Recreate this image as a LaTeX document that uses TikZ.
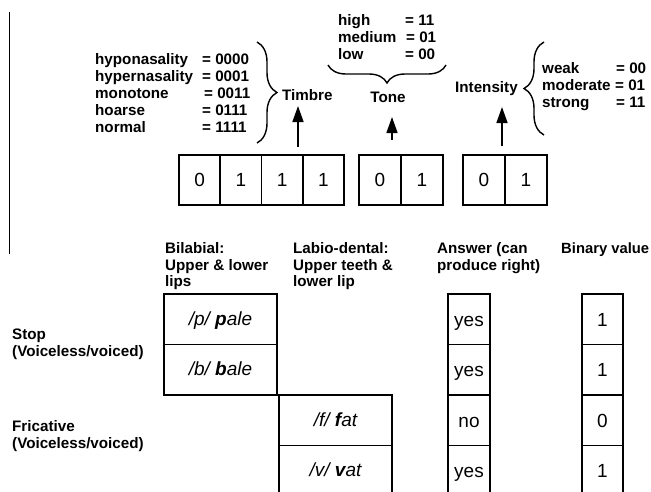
\documentclass[tikz,border=0pt]{standalone}
\usepackage{fontspec}
\setmainfont{Liberation Sans}
\usetikzlibrary{arrows.meta,decorations.pathreplacing}
\begin{document}
\begin{tikzpicture}[x=1pt,y=-1pt,
  lbl/.style={font=\fontsize{15.2}{17}\selectfont\bfseries, inner sep=0pt, anchor=base west},
  cell/.style={draw, line width=1.5pt, minimum width=41.25pt, minimum height=50pt,
               inner sep=0pt, text height=13.6pt, text depth=0pt,
               font=\fontsize{19}{21}\selectfont},
  brc/.style={decorate, decoration={brace, amplitude=#1}, line width=1.4pt},
  up/.style={-{Triangle[width=11pt,length=16pt]}, line width=1.6pt}
]
\useasboundingbox (0,0) rectangle (651,491);

% margin rule on the left
\coordinate (m1) at (9.5,12);
\coordinate (m2) at (9.5,254);
\draw[line width=1.4pt] (m1) -- (m2);

% ---- timbre codes ----
\node[lbl] (t1) at (95,64) {hyponasality};
\node[lbl] (t2) at (95,81) {hypernasality};
\node[lbl] (t3) at (95,98) {monotone};
\node[lbl] (t4) at (95,115) {hoarse};
\node[lbl] (t5) at (95,132) {normal};
\node[lbl] (tv1) at (202,64) {= 0000};
\node[lbl] (tv2) at (202,81) {= 0001};
\node[lbl] (tv3) at (204,98) {= 0011};
\node[lbl] (tv4) at (202,115) {= 0111};
\node[lbl] (tv5) at (202,132) {= 1111};
\draw[brc=20pt] (257,42) -- (257,143);
\node[lbl] (timbre) at (282,100) {Timbre};

% ---- tone codes ----
\node[lbl] (o1) at (338,25) {high};
\node[lbl] (o2) at (338,42) {medium};
\node[lbl] (o3) at (338,59) {low};
\node[lbl] (ov1) at (405,25) {= 11};
\node[lbl] (ov2) at (406,42) {= 01};
\node[lbl] (ov3) at (405,59) {= 00};
\draw[brc=18pt] (446,65) -- (328,65);
\node[lbl, anchor=base] (tone) at (388,102) {Tone};

% ---- intensity codes ----
\node[lbl] (intensity) at (455,92) {Intensity};
\draw[brc=20pt] (544,135) -- (544,42);
\node[lbl] (i1) at (542,73) {weak};
\node[lbl] (i2) at (542,90) {moderate};
\node[lbl] (i3) at (542,107) {strong};
\node[lbl] (iv1) at (616,73) {= 00};
\node[lbl] (iv2) at (615,90) {= 01};
\node[lbl] (iv3) at (616,107) {= 11};

% ---- bit boxes ----
\node[cell] (b1) at (199.6,180) {0};
\node[cell] (b2) at (240.9,180) {1};
\node[cell] (b3) at (282.1,180) {1};
\node[cell] (b4) at (323.4,180) {1};
\node[cell, minimum width=42pt] (b5) at (380,180) {0};
\node[cell, minimum width=42pt] (b6) at (422,180) {1};
\node[cell, minimum width=42pt] (b7) at (484,180) {0};
\node[cell, minimum width=42pt] (b8) at (526,180) {1};

% arrows from the bit groups to their labels
\coordinate (a1s) at (298,147); \coordinate (a1e) at (298,106);
\coordinate (a2s) at (392,140); \coordinate (a2e) at (392,117);
\coordinate (a3s) at (502,146); \coordinate (a3e) at (502,107);
\draw[up] (a1s) -- (a1e);
\draw[up] (a2s) -- (a2e);
\draw[up] (a3s) -- (a3e);

% ---- articulation table ----
\node[lbl] (h1a) at (165,253.5) {Bilabial:};
\node[lbl] (h1b) at (165,270) {Upper \& lower};
\node[lbl] (h1c) at (165,286) {lips};
\node[lbl] (h2a) at (293,253.5) {Labio-dental:};
\node[lbl] (h2b) at (293,270) {Upper teeth \&};
\node[lbl] (h2c) at (293,286) {lower lip};
\node[lbl] (h3a) at (437,253.5) {Answer (can};
\node[lbl] (h3b) at (437,270) {produce right)};
\node[lbl, font=\fontsize{14.8}{17}\selectfont\bfseries] (h4a) at (561,253.5) {Binary value};

\node[lbl] (s1) at (12,339) {Stop};
\node[lbl] (s2) at (12,356) {(Voiceless/voiced)};
\node[lbl] (f1) at (12,431.5) {Fricative};
\node[lbl] (f2) at (12,448) {(Voiceless/voiced)};

\tikzset{wide/.style={cell, minimum width=113pt, minimum height=50.5pt, text height=12pt,
                      font=\fontsize{19}{21}\selectfont\itshape},
         row/.style={cell, minimum height=50.5pt}}
\node[wide] (p) at (220.5,319.25) {/p/ \textbf{p}ale};
\node[wide] (b) at (220.5,369.75) {/b/ \textbf{b}ale};
\node[wide] (f) at (335.5,420.25) {/f/ \textbf{f}at};
\node[wide] (v) at (335.5,470.75) {/v/ \textbf{v}at};

\node[row, minimum width=42pt] (r1) at (469,319.25) {yes};
\node[row, minimum width=42pt] (r2) at (469,369.75) {yes};
\node[row, minimum width=42pt] (r3) at (469,420.25) {no};
\node[row, minimum width=42pt] (r4) at (469,470.75) {yes};

\node[row, minimum width=41pt] (n1) at (602.5,319.25) {1};
\node[row, minimum width=41pt] (n2) at (602.5,369.75) {1};
\node[row, minimum width=41pt] (n3) at (602.5,420.25) {0};
\node[row, minimum width=41pt] (n4) at (602.5,470.75) {1};
\end{tikzpicture}
\end{document}
